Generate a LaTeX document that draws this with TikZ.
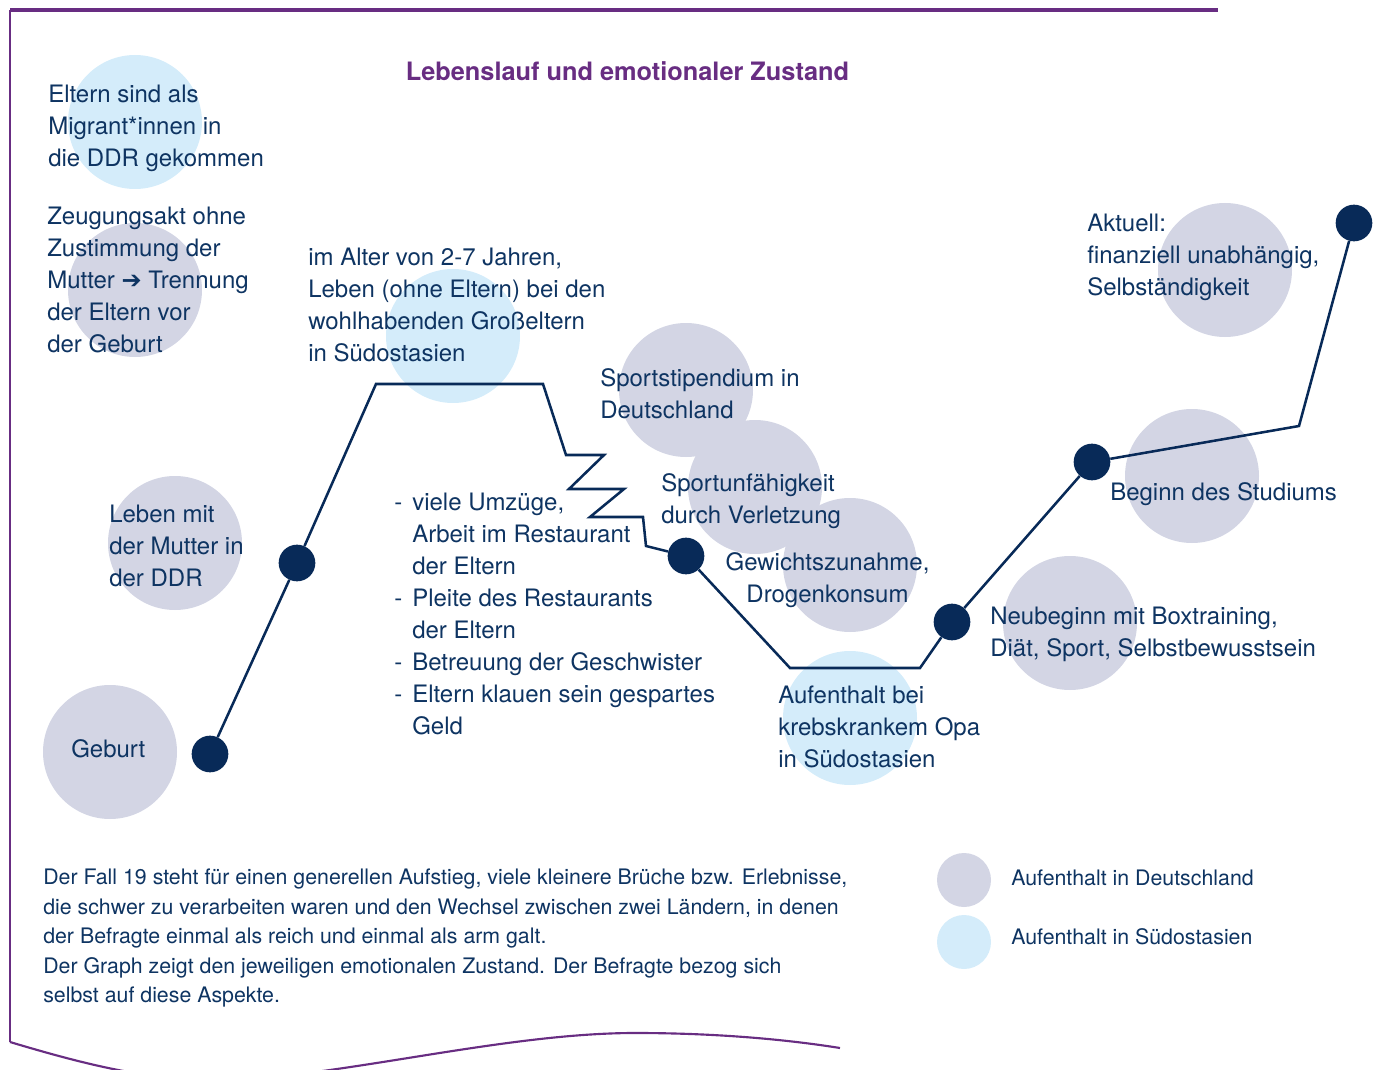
\documentclass[tikz,border=0pt]{standalone}
\usepackage{fontspec}
\setmainfont{TeX Gyre Heros}
\newfontfamily\symfont{DejaVu Sans}

\definecolor{lilac}{RGB}{104,45,130}
\definecolor{inknavy}{RGB}{14,52,98}
\definecolor{dotnavy}{RGB}{8,42,88}
\definecolor{degrey}{RGB}{211,213,228}
\definecolor{seablue}{RGB}{212,236,250}

\tikzset{
    stay/.style={circle, minimum size=100.5pt, inner sep=0pt},
    stayde/.style={stay, fill=degrey},
    staysea/.style={stay, fill=seablue},
    keydot/.style={circle, minimum size=40.5pt, inner sep=0pt},
    station/.style={circle, fill=dotnavy, minimum size=27.5pt, inner sep=0pt},
    evt/.style={anchor=north west, inner sep=0pt, align=left, text=inknavy,
        font=\fontsize{18}{24}\selectfont},
    small/.style={inner sep=0pt, align=left, text=inknavy,
        font=\fontsize{16}{22.1}\selectfont},
    lifeline/.style={draw=dotnavy, line width=1.9pt, line join=miter},
    frame/.style={draw=lilac, line width=1.6pt}
}

\begin{document}
\begin{tikzpicture}[x=0.75pt, y=-0.75pt]
\useasboundingbox (0,0) rectangle (1379,1070);
\clip (0,0) rectangle (1379,1070);

% frame
\draw[frame, line width=2.4pt] (10,10) -- (1218,10);
\draw[frame] (10,10) -- (10,1042);
\draw[frame] (10,1042) .. controls (90,1066) and (150,1080) .. (215,1080)
    .. controls (330,1080) and (500,1033) .. (635,1033)
    .. controls (720,1033) and (790,1040) .. (840,1048);

% stays
\node[staysea] (cmigr) at (135,122) {};
\node[stayde]  (czeug) at (135,290) {};
\node[staysea] (calter) at (453,336) {};
\node[stayde]  (cstip) at (686,390) {};
\node[stayde]  (cverl) at (755,487) {};
\node[stayde]  (cgewi) at (850,565) {};
\node[staysea] (copa) at (850,718) {};
\node[stayde]  (caktu) at (1225,270) {};
\node[stayde]  (cstud) at (1192,476) {};
\node[stayde]  (cboxt) at (1070,623) {};
\node[stayde]  (cmutt) at (175,543) {};
\node[stayde]  (cgeb) at (110,752) {};

% title
\node[text=lilac, font=\fontsize{19}{23}\selectfont\bfseries, inner sep=0pt] (title) at (627.5,71)
    {Lebenslauf und emotionaler Zustand};

% events
\node[evt] (migr) at (48,85) {Eltern sind als\\Migrant*innen in\\die DDR gekommen};
\node[evt] (zeug) at (47,207) {Zeugungsakt ohne\\Zustimmung der\\Mutter {\symfont ➔} Trennung\\der Eltern vor\\der Geburt};
\node[evt] (alter) at (308,248) {im Alter von 2-7 Jahren,\\Leben (ohne Eltern) bei den\\wohlhabenden Großeltern\\in Südostasien};
\node[evt] (stip) at (600,368) {Sportstipendium in\\Deutschland};
\node[evt] (verl) at (661,473) {Sportunfähigkeit\\durch Verletzung};
\node[evt, anchor=north, align=center] (gewi) at (827.5,552) {Gewichtszunahme,\\Drogenkonsum};
\node[evt] (opa) at (778,686) {Aufenthalt bei\\krebskrankem Opa\\in Südostasien};
\node[evt] (aktu) at (1087,214) {Aktuell:\\finanziell unabhängig,\\Selbständigkeit};
\node[evt] (stud) at (1110,482) {Beginn des Studiums};
\node[evt] (boxt) at (990,607) {Neubeginn mit Boxtraining,\\Diät, Sport, Selbstbewusstsein};
\node[evt] (mutt) at (109,505) {Leben mit\\der Mutter in\\der DDR};
\node[evt, anchor=west] (geb) at (71,749) {Geburt};
\node[evt] (umz) at (412,493) {\llap{-\hspace{7.5pt}}viele Umzüge,\\Arbeit im Restaurant\\der Eltern\\
    \llap{-\hspace{7.5pt}}Pleite des Restaurants\\der Eltern\\
    \llap{-\hspace{7.5pt}}Betreuung der Geschwister\\
    \llap{-\hspace{7.5pt}}Eltern klauen sein gespartes\\Geld};

% life line
\coordinate (k1) at (376,384);
\coordinate (k2) at (543,384);
\coordinate (k3) at (566,455);
\coordinate (k4) at (604,455);
\coordinate (k5) at (569,489);
\coordinate (k6) at (624,489);
\coordinate (k7) at (590,517);
\coordinate (k8) at (643,517);
\coordinate (k9) at (646,546);
\coordinate (k10) at (790,668);
\coordinate (k11) at (920,668);
\coordinate (k12) at (1299,426);

\node[station] (d1) at (210,754) {};
\node[station] (d2) at (297,563) {};
\node[station] (d3) at (686,556) {};
\node[station] (d4) at (952,622) {};
\node[station] (d5) at (1092,462) {};
\node[station] (d6) at (1354,223) {};

\draw[lifeline] (d1) -- (d2) -- (k1) -- (k2) -- (k3) -- (k4) -- (k5) -- (k6)
    -- (k7) -- (k8) -- (k9) -- (d3) -- (k10) -- (k11) -- (d4) -- (d5) -- (k12) -- (d6);

% footer
\node[small, anchor=north west] (foot) at (43,869)
    {Der Fall 19 steht für einen generellen Aufstieg, viele kleinere Brüche bzw. Erlebnisse,\\
     die schwer zu verarbeiten waren und den Wechsel zwischen zwei Ländern, in denen\\
     der Befragte einmal als reich und einmal als arm galt.\\
     Der Graph zeigt den jeweiligen emotionalen Zustand. Der Befragte bezog sich\\
     selbst auf diese Aspekte.};

% legend
\node[keydot, fill=degrey] (kde) at (964,880) {};
\node[keydot, fill=seablue] (ksea) at (964,942) {};
\node[small, anchor=west] (lde) at (1011,878) {Aufenthalt in Deutschland};
\node[small, anchor=west] (lsea) at (1011,937) {Aufenthalt in Südostasien};

\end{tikzpicture}
\end{document}
